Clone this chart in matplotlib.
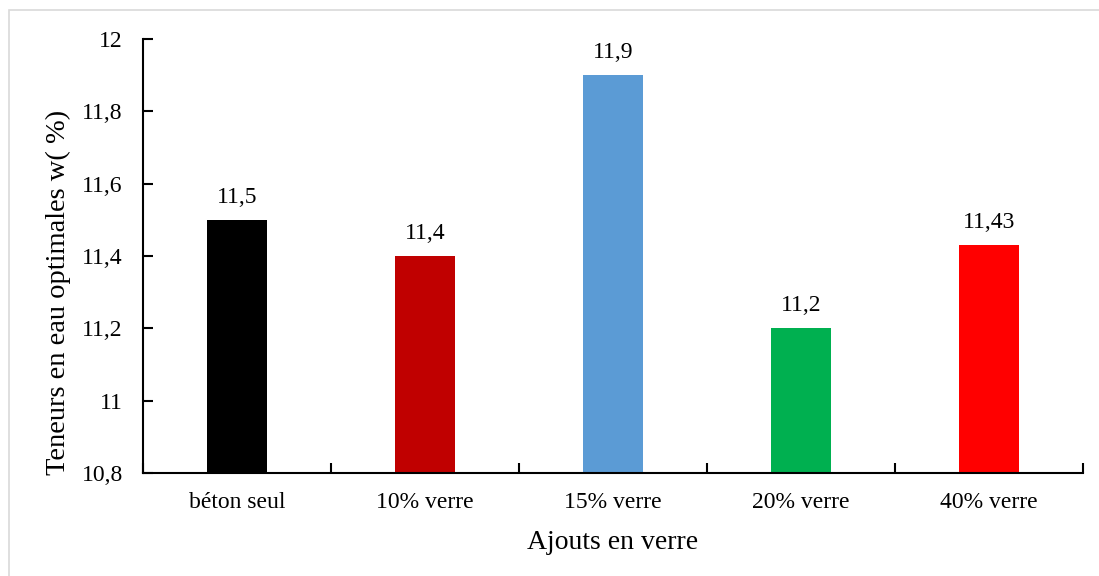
import matplotlib
matplotlib.use('Agg')
import matplotlib.pyplot as plt
import matplotlib.patches as mpatches
from matplotlib.ticker import FuncFormatter, MultipleLocator

W, H, DPI = 1099, 576, 100
plt.rcParams['font.family'] = ['Liberation Serif', 'DejaVu Serif']

categories = ['béton seul', '10% verre', '15% verre', '20% verre', '40% verre']
values = [11.5, 11.4, 11.9, 11.2, 11.43]
labels = ['11,5', '11,4', '11,9', '11,2', '11,43']
colors = ['#000000', '#C00000', '#5B9BD5', '#00B050', '#FF0000']

fig = plt.figure(figsize=(W/DPI, H/DPI), dpi=DPI)
ax = fig.add_axes([143/W, 1-473/H, (1083-143)/W, (473-39)/H])

# outer frame (only left/top edges visible in the picture)
fig.patches.append(mpatches.Rectangle((8.5/W, -0.05), 1.1, 1.05 - 9.5/H,
                   transform=fig.transFigure, fill=False, ec='#D9D9D9', lw=1.2))

x = range(len(categories))
ax.bar(x, values, width=0.32, color=colors, zorder=2)
for i, (v, s) in enumerate(zip(values, labels)):
    ax.annotate(s, (i, v), xytext=(0, 12.2), textcoords='offset points',
                ha='center', va='baseline', fontsize=17)

ax.set_xlim(-0.5, len(categories) - 0.5)
ax.set_ylim(10.8, 12)
ax.yaxis.set_major_locator(MultipleLocator(0.2))
ax.yaxis.set_major_formatter(FuncFormatter(lambda v, p: ('%g' % round(v, 2)).replace('.', ',')))

ax.set_xticks([i - 0.5 for i in range(len(categories) + 1)])
ax.set_xticklabels([])
ax.set_xticks(list(x), minor=True)
ax.set_xticklabels(categories, minor=True, fontsize=17)
ax.tick_params(axis='x', which='major', direction='in', length=7, width=1.5)
ax.tick_params(axis='x', which='minor', length=0, pad=14)
ax.tick_params(axis='y', direction='in', length=7, width=1.5, labelsize=17, pad=14.5)

for sp in ['top', 'right']:
    ax.spines[sp].set_visible(False)
for sp in ['left', 'bottom']:
    ax.spines[sp].set_linewidth(1.5)

ax.set_xlabel('Ajouts en verre', fontsize=20)
ax.xaxis.set_label_coords(0.5, -0.131)
ax.set_ylabel('Teneurs en eau optimales w( %)', fontsize=20.5)
ax.yaxis.set_label_coords(-0.077, 0.415)

fig.savefig('out.png', dpi=DPI, facecolor='white')
